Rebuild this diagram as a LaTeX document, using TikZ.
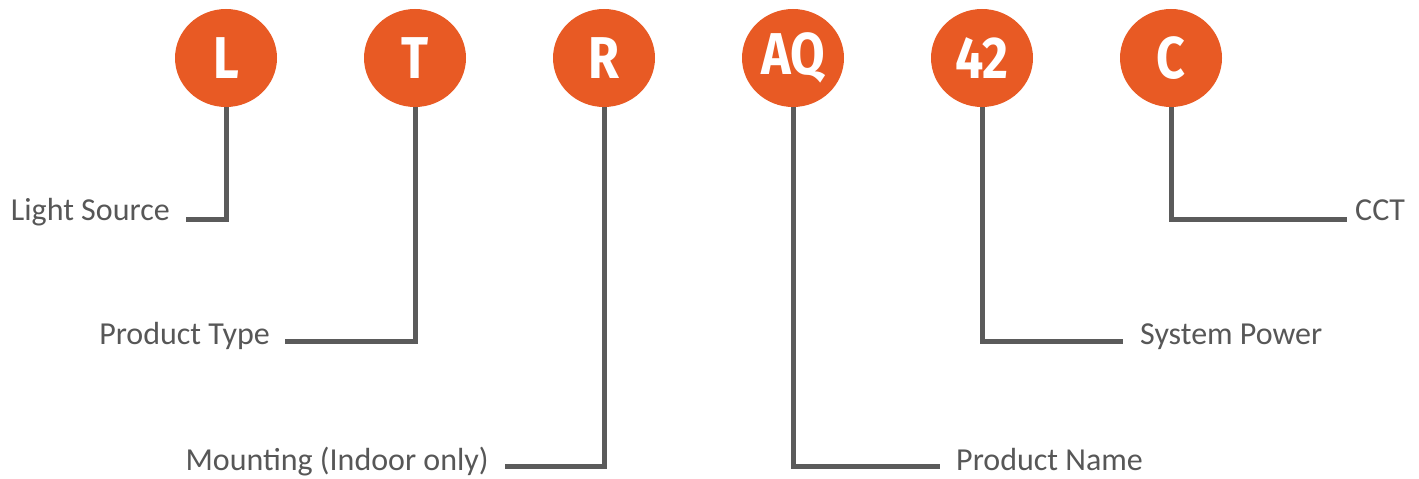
\documentclass[tikz,border=0pt]{standalone}
\usepackage{fontspec}
\setmainfont{Carlito}
\newfontfamily\circfont[FakeStretch=0.85]{Fira Sans Bold}
\usetikzlibrary{shapes.geometric}
\definecolor{codeorange}{HTML}{E85A24}
\definecolor{linegray}{HTML}{5B5B5B}
\definecolor{textgray}{HTML}{575757}
\tikzset{
  codecircle/.style={ellipse, fill=codeorange, draw=none, minimum width=102pt, minimum height=98pt, inner sep=0pt, text=white, font=\circfont\fontsize{59}{60}\selectfont},
  lbl/.style={inner sep=0pt, text=textgray, font=\fontsize{32}{38}\selectfont},
  conn/.style={draw=linegray, line width=5pt}
}
\begin{document}
\begin{tikzpicture}[x=1pt,y=1pt]
\useasboundingbox (0,0) rectangle (1419,479);
% circles
\node[codecircle] (cL) at (226,421) {L};
\node[codecircle] (cT) at (415,421) {T};
\node[codecircle] (cR) at (604,421) {R};
\node[codecircle] (cAQ) at (793,421) {AQ};
\node[codecircle] (c42) at (982,421) {42};
\node[codecircle] (cC) at (1171,421) {C};
% labels
\node[lbl, anchor=base east] (lL) at (170,258) {Light Source};
\node[lbl, anchor=base east] (lT) at (270,134) {Product Type};
\node[lbl, anchor=base east] (lR) at (489,8) {Mounting (Indoor only)};
\node[lbl, anchor=base west] (lAQ) at (956,8) {Product Name};
\node[lbl, anchor=base west] (l42) at (1140,134) {System Power};
\node[lbl, anchor=base west] (lC) at (1355,258) {CCT};
% connector ends
\coordinate (eL) at (186,259);
\coordinate (eT) at (285,137);
\coordinate (eR) at (505,12);
\coordinate (eAQ) at (940,12);
\coordinate (e42) at (1123,137);
\coordinate (eC) at (1347,259);
% connectors
\draw[conn] (cL.south) |- (eL);
\draw[conn] (cT.south) |- (eT);
\draw[conn] (cR.south) |- (eR);
\draw[conn] (cAQ.south) |- (eAQ);
\draw[conn] (c42.south) |- (e42);
\draw[conn] (cC.south) |- (eC);
\end{tikzpicture}
\end{document}
